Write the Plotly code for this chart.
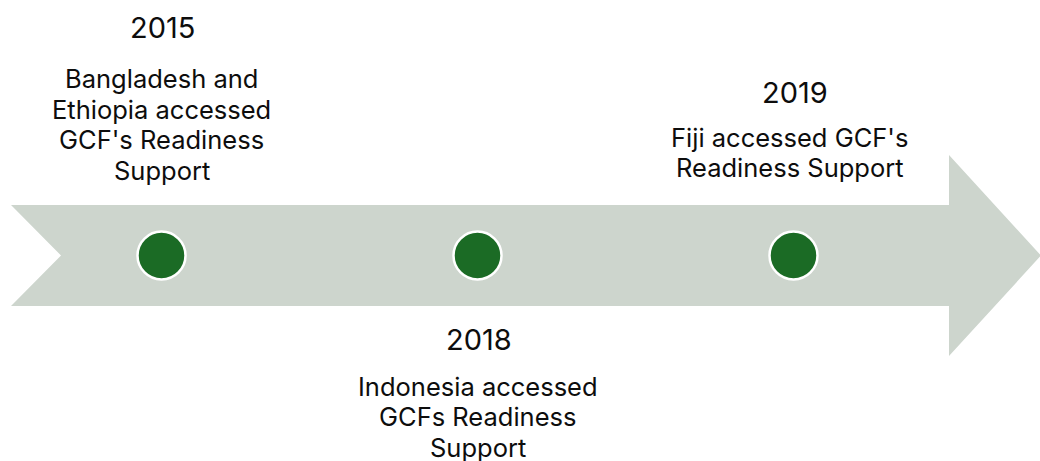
import plotly.graph_objects as go

# ---- data ----
years = ["2015", "2018", "2019"]
descriptions = [
    ["Bangladesh and", "Ethiopia accessed", "GCF's Readiness", "Support"],
    ["Indonesia accessed", "GCFs Readiness", "Support"],
    ["Fiji accessed GCF's", "Readiness Support"],
]
steps = [0, 1, 2]  # position of each event along the timeline

# ---- style / layout ----
W, H = 1040, 461
ARROW = "#CDD5CD"
DOT = "#1B6B25"
FONT = "Inter"
TEXT = "#0d0d0d"

step_px = 316.0
x0_px = 161.5
cy = 255.5  # arrow centre (page px)


def xpx(p):
    return (p - x0_px) / step_px


def ypx(p):
    return cy - p


xr = [xpx(0), xpx(W)]
yr = [ypx(H), ypx(0)]

# arrow outline, page px -> axis units
arrow_px = [(11, 205), (949, 205), (949, 155), (1041, cy), (949, 356),
            (949, 306), (11, 306), (61, cy), (11, 205)]
ax = [xpx(p[0]) for p in arrow_px]
ay = [ypx(p[1]) for p in arrow_px]

# label placement per event (page px): year centre, first line centre, line gap
label_pos = [
    dict(year=27, first=78.5, gap=30.5),
    dict(year=339, first=386, gap=30.7),
    dict(year=92, first=137, gap=30.5),
]
label_dx = [0, 0, -4]

fig = go.Figure()
fig.add_trace(go.Scatter(x=ax, y=ay, mode="lines", fill="toself",
                         fillcolor=ARROW, line=dict(width=0, color=ARROW),
                         hoverinfo="skip", showlegend=False))
fig.add_trace(go.Scatter(x=steps, y=[0] * len(steps), mode="markers",
                         marker=dict(size=48, color=DOT,
                                     line=dict(color="white", width=2.5)),
                         hoverinfo="skip", showlegend=False))

for s, yl, lines, pos, dx in zip(steps, years, descriptions, label_pos, label_dx):
    xs = s + dx / step_px
    fig.add_annotation(x=s + 1 / step_px, y=ypx(pos["year"]), text=yl, showarrow=False,
                       font=dict(family=FONT, size=29, color=TEXT),
                       xanchor="center", yanchor="middle")
    for i, ln in enumerate(lines):
        fig.add_annotation(x=xs, y=ypx(pos["first"] + i * pos["gap"]), text=ln,
                           showarrow=False,
                           font=dict(family=FONT, size=25.5, color=TEXT),
                           xanchor="center", yanchor="middle")

fig.update_layout(
    width=W, height=H,
    margin=dict(l=0, r=0, t=0, b=0),
    paper_bgcolor="white", plot_bgcolor="white",
    xaxis=dict(range=xr, visible=False, fixedrange=True),
    yaxis=dict(range=yr, visible=False, fixedrange=True),
)

fig.write_html(
    "out.html",
    config={"displayModeBar": False, "staticPlot": True},
    post_script="document.body.style.margin='0';document.body.style.overflow='hidden';",
)
